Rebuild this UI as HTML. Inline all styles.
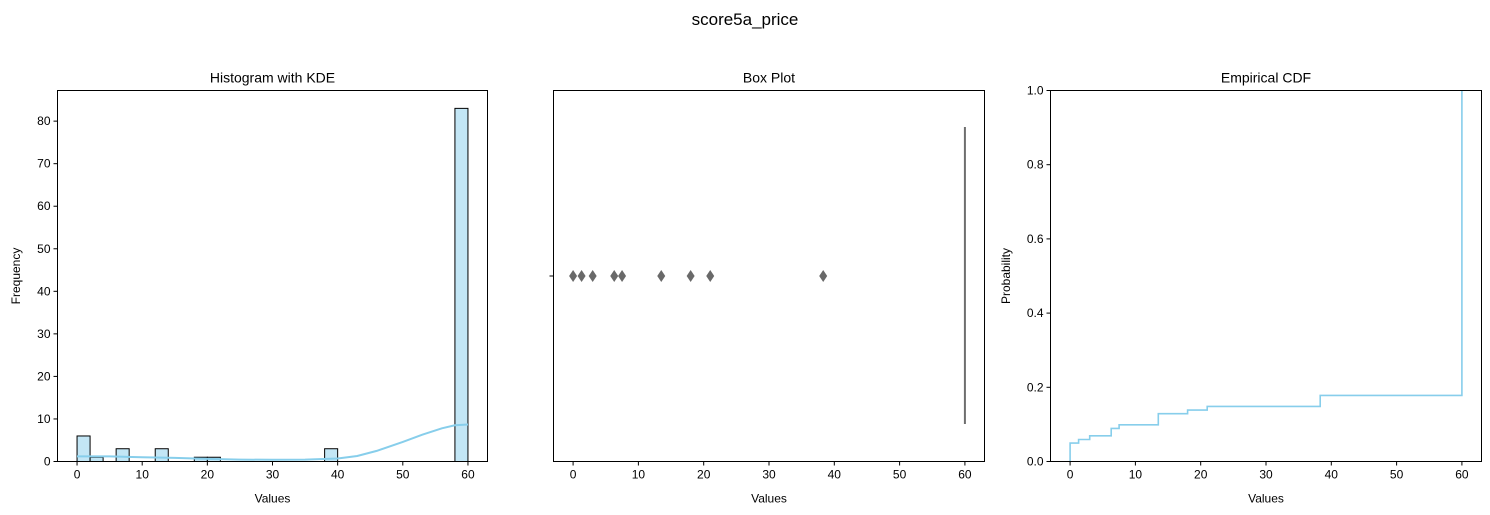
<!DOCTYPE html>
<html><head><meta charset="utf-8">
<style>
html,body{margin:0;padding:0;background:#fff;}
svg{display:block;font-family:"Liberation Sans","DejaVu Sans",sans-serif;}
</style></head>
<body>
<svg id="c" width="1490" height="515" viewBox="0 0 1490 515" xmlns="http://www.w3.org/2000/svg">
<text x="745" y="25" font-size="17" text-anchor="middle" fill="#000">score5a_price</text>
</svg>
<script>
// Histogram data
const histBinStarts = [0, 2, 6, 12, 18, 20, 38, 58];
const histCounts = [6, 1, 3, 3, 1, 1, 3, 83];
const histBinWidth = 2;
const kdeX = [0, 5, 10, 15, 20, 25, 30, 35, 40, 43, 46, 50, 53, 56, 58, 60];
const kdeY = [1.2, 1.2, 1.0, 0.85, 0.6, 0.45, 0.4, 0.45, 0.7, 1.3, 2.5, 4.6, 6.3, 7.8, 8.5, 8.7];
const xTicks = [0, 10, 20, 30, 40, 50, 60];
const histYTicks = [0, 10, 20, 30, 40, 50, 60, 70, 80];
// Box plot data
const boxOutliers = [0, 1.3, 3, 6.3, 7.5, 13.5, 18, 21, 38.3];
const boxMedian = 60;
// ECDF data
const ecdfValues = [0, 1.3, 3, 6.3, 7.5, 13.5, 18, 21, 38.3, 60];
const ecdfCounts = [5, 1, 1, 2, 1, 3, 1, 1, 3, 83];
const cdfYTicks = [0.0, 0.2, 0.4, 0.6, 0.8, 1.0];

const NS = "http://www.w3.org/2000/svg";
const svg = document.getElementById('c');
function mk(tag, attrs, parent) {
  const e = document.createElementNS(NS, tag);
  for (const k in attrs) e.setAttribute(k, attrs[k]);
  (parent || svg).appendChild(e);
  return e;
}
function axisFactory(left, right, top, bottom, x0, x1, y0, y1) {
  return {
    x: v => left + (v - x0) / (x1 - x0) * (right - left),
    y: v => bottom - (v - y0) / (y1 - y0) * (bottom - top),
    left, right, top, bottom
  };
}
function frame(ax, title, name) {
  const t = mk('text', {x: (ax.left + ax.right) / 2, y: ax.top - 8, 'font-size': 14, 'text-anchor': 'middle'});
  t.textContent = title;
  
  
  const r = mk('rect', {x: ax.left, y: ax.top, width: ax.right - ax.left, height: ax.bottom - ax.top, fill: 'none', stroke: '#000', 'stroke-width': 1});
  
  
}
function xAxis(ax, name) {
  const g = mk('g', {});
  
  
  xTicks.forEach(v => {
    const px = ax.x(v);
    mk('line', {x1: px, x2: px, y1: ax.bottom, y2: ax.bottom + 4, stroke: '#000'}, g);
    const t = mk('text', {x: px, y: ax.bottom + 17, 'font-size': 12, 'text-anchor': 'middle'}, g);
    t.textContent = v;
  });
  const lab = mk('text', {x: (ax.left + ax.right) / 2, y: ax.bottom + 41, 'font-size': 12, 'text-anchor': 'middle'});
  lab.textContent = 'Values';
  
  
}
function yAxis(ax, ticks, fmt, title, name, titleX) {
  const g = mk('g', {});
  
  
  ticks.forEach(v => {
    const py = ax.y(v);
    mk('line', {x1: ax.left - 4, x2: ax.left, y1: py, y2: py, stroke: '#000'}, g);
    const t = mk('text', {x: ax.left - 7, y: py + 4, 'font-size': 12, 'text-anchor': 'end'}, g);
    t.textContent = fmt(v);
  });
  const my = (ax.top + ax.bottom) / 2;
  const lab = mk('text', {x: titleX, y: my, 'font-size': 12, 'text-anchor': 'middle', transform: `rotate(-90 ${titleX} ${my})`});
  lab.textContent = title;
  
  
}

// Panel 1: histogram
const a1 = axisFactory(57.5, 487.5, 90.5, 461.5, -3, 63, 0, 87.2);
for (let i = 0; i < histCounts.length; i++) {
  const x0 = a1.x(histBinStarts[i]), x1 = a1.x(histBinStarts[i] + histBinWidth);
  const b = mk('rect', {x: x0, y: a1.y(histCounts[i]), width: x1 - x0, height: a1.y(0) - a1.y(histCounts[i]), fill: 'rgba(135,206,235,0.5)', stroke: '#000', 'stroke-width': 1});
  
  
}
let kd = '';
kdeX.forEach((v, i) => { kd += (i ? ' L' : 'M') + a1.x(v).toFixed(1) + ' ' + a1.y(kdeY[i]).toFixed(1); });
const kl = mk('path', {d: kd, fill: 'none', stroke: '#87ceeb', 'stroke-width': 2});


frame(a1, 'Histogram with KDE', 'histogram');
xAxis(a1, 'histogram');
yAxis(a1, histYTicks, v => v, 'Frequency', 'histogram', 20);

// Panel 2: box plot
const a2 = axisFactory(553.5, 984.5, 90.5, 461.5, -3, 63, 0, 1);
boxOutliers.forEach(v => {
  const px = a2.x(v), py = 276;
  const d = mk('path', {d: `M${px} ${py - 6} L${px + 4} ${py} L${px} ${py + 6} L${px - 4} ${py} Z`, fill: '#696969'});
  
  
});
const bm = mk('line', {x1: a2.x(boxMedian), x2: a2.x(boxMedian), y1: 127, y2: 424, stroke: '#6e6e6e', 'stroke-width': 2});


frame(a2, 'Box Plot', 'boxplot');
xAxis(a2, 'boxplot');
mk('line', {x1: a2.left - 4, x2: a2.left, y1: 276, y2: 276, stroke: '#000'});

// Panel 3: ECDF
const a3 = axisFactory(1050.5, 1481.5, 90.5, 461.5, -3, 63, 0, 1);
const total = ecdfCounts.reduce((s, v) => s + v, 0);
let cum = 0, cd = `M${a3.x(ecdfValues[0])} ${a3.y(0)}`;
ecdfValues.forEach((v, i) => {
  cum += ecdfCounts[i];
  cd += ` L${a3.x(v).toFixed(1)} ${a3.y(cum / total).toFixed(1)}`;
  if (i + 1 < ecdfValues.length) cd += ` L${a3.x(ecdfValues[i + 1]).toFixed(1)} ${a3.y(cum / total).toFixed(1)}`;
});
const cl = mk('path', {d: cd, fill: 'none', stroke: '#87ceeb', 'stroke-width': 1.6});


frame(a3, 'Empirical CDF', 'ecdf');
xAxis(a3, 'ecdf');
yAxis(a3, cdfYTicks, v => v.toFixed(1), 'Probability', 'ecdf', 1010);
</script>
</body></html>
